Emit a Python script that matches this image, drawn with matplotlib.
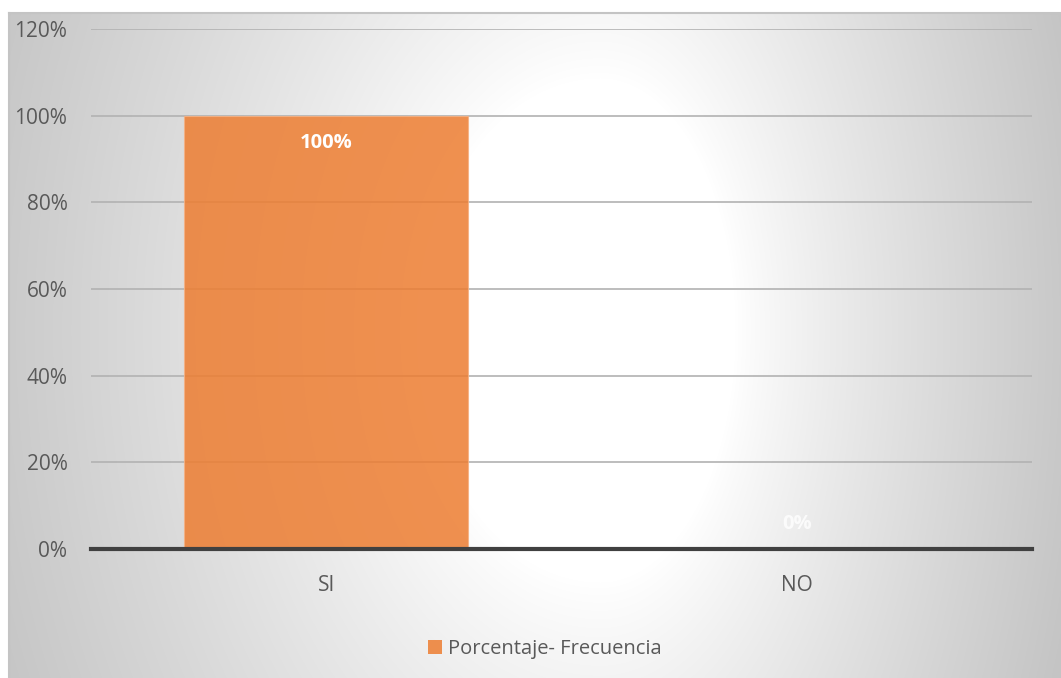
import numpy as np
import matplotlib
matplotlib.use("Agg")
import matplotlib.pyplot as plt
from matplotlib.patches import Patch
from matplotlib.ticker import FuncFormatter

plt.rcParams['font.family'] = ['Open Sans', 'DejaVu Sans']

categories = ["SI", "NO"]
values = [100, 0]
series_name = "Porcentaje- Frecuencia"
y_ticks = [0, 20, 40, 60, 80, 100, 120]

W, H = 1061, 678
fig = plt.figure(figsize=(W / 100, H / 100), dpi=100)
fig.patch.set_facecolor("white")

# Chart area with a soft elliptical light-gray gradient
bg_left, bg_top = 9, 13
bg = fig.add_axes([bg_left / W, 0, 1 - bg_left / W, 1 - bg_top / H])
bg.set_axis_off()
xs = np.arange(bg_left, W)
ys = np.arange(bg_top, H)
X, Y = np.meshgrid(xs, ys)
cx_px, cy_px = 600, 330
sx = np.where(X < cx_px, 200.0, 150.0)
d = np.sqrt(((X - cx_px) / sx) ** 2 + ((Y - cy_px) / 280.0) ** 2)
t = np.clip((d - 0.9) / 2.4, 0, 1) ** 0.85
g = (255 - (255 - 196) * t) / 255.0
img = np.dstack([g, g, g])
bg.imshow(img, aspect="auto", extent=[0, 1, 0, 1], origin="upper")
bg.set_xlim(0, 1)
bg.set_ylim(0, 1)
bg.plot([0, 1], [1, 1], color="#c4c4c4", lw=1.5, transform=bg.transAxes, clip_on=False)
bg.plot([0, 0], [0, 1], color="#c4c4c4", lw=1.5, transform=bg.transAxes, clip_on=False)

# Plot area
x0, x1 = 91, 1032
y_top, y_bot = 29, 549
ax = fig.add_axes([x0 / W, 1 - y_bot / H, (x1 - x0) / W, (y_bot - y_top) / H])
ax.patch.set_alpha(0)

pos = np.arange(len(categories))
bars = ax.bar(pos, values, width=0.604, color="#ED7D31", alpha=0.85,
              edgecolor="#F6B183", linewidth=0.8, zorder=3)

ax.set_xlim(-0.5, len(categories) - 0.5)
ax.set_ylim(0, 120)
ax.set_yticks(y_ticks)
ax.yaxis.set_major_formatter(FuncFormatter(lambda v, _: f"{v:.0f}%"))
ax.set_xticks(pos)
ax.set_xticklabels(categories)
ax.tick_params(axis="both", length=0, labelsize=15, colors="#595959")
ax.tick_params(axis="y", pad=17)
ax.tick_params(axis="x", pad=19)
ax.yaxis.grid(True, color="#b2b2b2", linewidth=1.2, zorder=1)
ax.set_axisbelow(True)
for s in ["top", "right", "left"]:
    ax.spines[s].set_visible(False)
ax.spines["bottom"].set_color("#404040")
ax.spines["bottom"].set_linewidth(3)
ax.spines["bottom"].set_zorder(4)

# Value labels
for rect, v in zip(bars, values):
    cx = rect.get_x() + rect.get_width() / 2
    if v > 10:
        ax.annotate(f"{v}%", (cx, v), xytext=(0, -20), textcoords="offset points",
                    ha="center", va="center", color="white", fontsize=14.5,
                    fontweight="bold", zorder=5)
    else:
        ax.annotate(f"{v}%", (cx, v), xytext=(0, 18), textcoords="offset points",
                    ha="center", va="center", color="white", fontsize=14.5,
                    fontweight="bold", alpha=0.8, zorder=5)

handles = [Patch(facecolor="#ED7D31", alpha=0.85, edgecolor="none", label=series_name)]
fig.legend(handles=handles, loc="center", bbox_to_anchor=(545 / W, 1 - 649 / H),
           frameon=False, fontsize=14.5, labelcolor="#595959", handlelength=0.7,
           handleheight=0.7, handletextpad=0.3)

fig.savefig("out.png", dpi=100)
